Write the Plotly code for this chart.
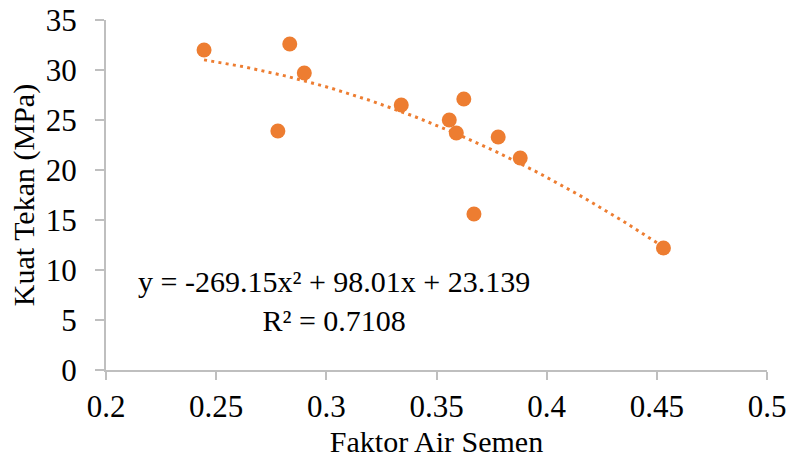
import numpy as np
import plotly.graph_objects as go

# Data
fas = [0.2445, 0.278, 0.2834, 0.290, 0.334, 0.3558, 0.359, 0.3624, 0.367, 0.378, 0.388, 0.453]
kuat_tekan = [32.0, 23.9, 32.6, 29.7, 26.5, 25.0, 23.7, 27.1, 15.6, 23.3, 21.2, 12.2]

# Polynomial trendline coefficients shown on the chart (a*x^2 + b*x + c)
trend_coef = [-269.15, 98.01, 23.139]
r_squared = 0.7108

x_ticks = [0.2, 0.25, 0.3, 0.35, 0.4, 0.45, 0.5]
y_ticks = [0, 5, 10, 15, 20, 25, 30, 35]

ORANGE = "#ED7D31"
FONT = "Liberation Serif"
AXIS = "#BFBFBF"
TICK_SIZE = 31
TITLE_SIZE = 30

xt = np.linspace(min(fas), max(fas), 120)
yt = np.polyval(trend_coef, xt)

fig = go.Figure()
fig.add_trace(go.Scatter(
    x=xt, y=yt, mode="lines",
    line=dict(color=ORANGE, width=3, dash="3px,4.3px"),
    hoverinfo="skip", showlegend=False,
))
fig.add_trace(go.Scatter(
    x=fas, y=kuat_tekan, mode="markers",
    marker=dict(color=ORANGE, size=15, line=dict(width=0)),
    showlegend=False,
))

eq_text = (f"y = {trend_coef[0]}x² + {trend_coef[1]}x + {trend_coef[2]}"
           f"<br>R² = {r_squared}")
fig.add_annotation(
    x=0.3035, y=6.9, xref="x", yref="y",
    text=eq_text, showarrow=False, align="center",
    font=dict(family=FONT, size=30, color="#000000"),
)

fig.update_layout(
    width=787, height=460,
    margin=dict(l=106, r=20, t=20, b=90),
    plot_bgcolor="white", paper_bgcolor="white",
    font=dict(family=FONT, size=TICK_SIZE, color="#000000"),
)
fig.update_xaxes(
    range=[0.2, 0.5], tickvals=x_ticks, ticktext=[f"{v:g}" for v in x_ticks],
    showgrid=False, zeroline=False, automargin=False,
    showline=True, linecolor=AXIS, linewidth=2,
    ticks="outside", ticklen=8, tickwidth=2, tickcolor=AXIS,
    tickfont=dict(family=FONT, size=TICK_SIZE, color="#000000"),
    title=dict(text="Faktor Air Semen", font=dict(family=FONT, size=TITLE_SIZE, color="#000000"), standoff=8),
)
fig.update_yaxes(
    range=[0, 35], tickvals=y_ticks,
    showgrid=False, zeroline=False, automargin=False,
    showline=True, linecolor=AXIS, linewidth=2,
    ticks="outside", ticklen=9, tickwidth=2, tickcolor=AXIS,
    tickfont=dict(family=FONT, size=TICK_SIZE, color="#000000"),
    ticklabelstandoff=12,
    title=dict(text="Kuat Tekan (MPa)", font=dict(family=FONT, size=TITLE_SIZE, color="#000000"), standoff=2),
)

fig.write_html("out.html")
